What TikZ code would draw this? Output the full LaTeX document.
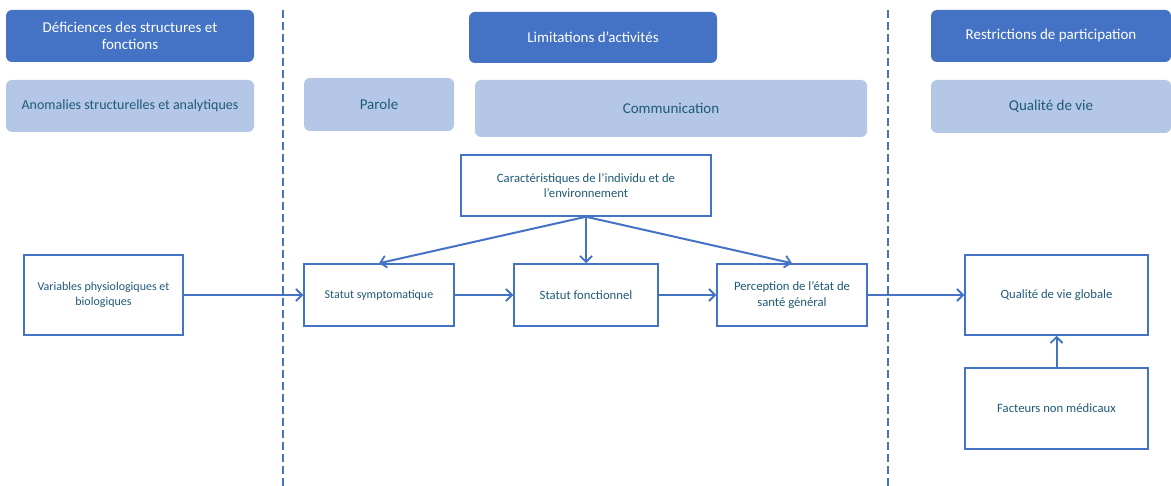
\documentclass[tikz,border=0pt]{standalone}
\usepackage{fontspec}
\setmainfont{Carlito}
\usepackage{tikz}
\usetikzlibrary{shapes, arrows.meta}
\definecolor{darkhead}{HTML}{4472C4}
\definecolor{lighthead}{HTML}{B4C7E7}
\definecolor{textteal}{HTML}{1F5A78}
\tikzstyle{header} = [rectangle, fill=darkhead, text=white, rounded corners=6pt,
    align=center, font=\fontsize{15}{17}\selectfont, minimum height=52pt]
\tikzstyle{area} = [rectangle, fill=lighthead, text=textteal, rounded corners=6pt,
    align=center, font=\fontsize{15}{17}\selectfont, minimum height=52pt]
\tikzstyle{block} = [rectangle, draw=darkhead, line width=1.5pt, text=textteal,
    align=center, font=\fontsize{12.7}{15.5}\selectfont, minimum height=62pt]
\tikzstyle{line} = [draw=darkhead, line width=2pt, -{Straight Barb[length=6pt, width=12pt, line width=1.8pt]}]
\tikzstyle{divider} = [draw=darkhead, line width=2.8pt, dash pattern=on 8pt off 4pt]

\begin{document}
\begin{tikzpicture}[x=1pt, y=1pt, node distance=207pt]
        \useasboundingbox (0,0) rectangle (1171,-486);
        % Headers
        \node [header, minimum width=248pt] (deficiences) at (130,-36) {D\'eficiences des structures et\\fonctions};
        \node [header, minimum width=248pt, minimum height=51pt] (limitations) at (593,-37.5) {Limitations d’activit\'es};
        \node [header, minimum width=240pt] (restrictions) at (1051,-36) {Restrictions de participation};
        % Domain nodes
        \node [area, minimum width=248pt, font=\fontsize{14}{16}\selectfont] (anomalies) at (130,-106) {Anomalies structurelles et analytiques};
        \node [area, minimum width=150pt, minimum height=53pt] (parole) at (379,-104.5) {Parole};
        \node [area, minimum width=392pt, minimum height=57pt] (communication) at (671,-108.5) {Communication};
        \node [area, minimum width=240pt, minimum height=53pt] (qualite) at (1051,-106.5) {Qualit\'e de vie};
        % Separators
        \coordinate (sepA top) at (283,-10);
        \coordinate (sepA bot) at (283,-486);
        \coordinate (sepB top) at (888,-10);
        \coordinate (sepB bot) at (888,-486);
        \path [divider] (sepA top) -- (sepA bot);
        \path [divider] (sepB top) -- (sepB bot);
        % Place nodes
        \node [block, minimum width=250pt, minimum height=61pt] (caract) at (586,-185.5) {Caract\'eristiques de l’individu et de\\l’environnement};
        \node [block, minimum width=159pt, minimum height=80pt, font=\fontsize{12}{15}\selectfont] (variables) at (103.5,-295) {Variables physiologiques et\\biologiques};
        \node [block, minimum width=150pt, font=\fontsize{12}{15}\selectfont] (symptomes) at (379,-295) {Statut symptomatique};
        \node [block, minimum width=144pt, right of=symptomes] (fonctionnel) {Statut fonctionnel};
        \node [block, minimum width=150pt, node distance=206pt, right of=fonctionnel] (perception) {Perception de l’\'etat de\\sant\'e g\'en\'eral};
        \node [block, minimum width=183pt, minimum height=80pt] (globale) at (1056.5,-295) {Qualit\'e de vie globale};
        \node [block, minimum width=183pt, minimum height=81pt, node distance=113.5pt, below of=globale] (facteurs) {Facteurs non m\'edicaux};
        % Draw edges
        \path [line] (variables) -- (symptomes);
        \path [line] (symptomes) -- (fonctionnel);
        \path [line] (fonctionnel) -- (perception);
        \path [line] (perception) -- (globale);
        \path [line] (caract.south) -- (symptomes.north);
        \path [line] (caract.south) -- (fonctionnel.north);
        \path [line] (caract.south) -- (perception.north);
        \path [line] (facteurs) -- (globale);
    \end{tikzpicture}
\end{document}
